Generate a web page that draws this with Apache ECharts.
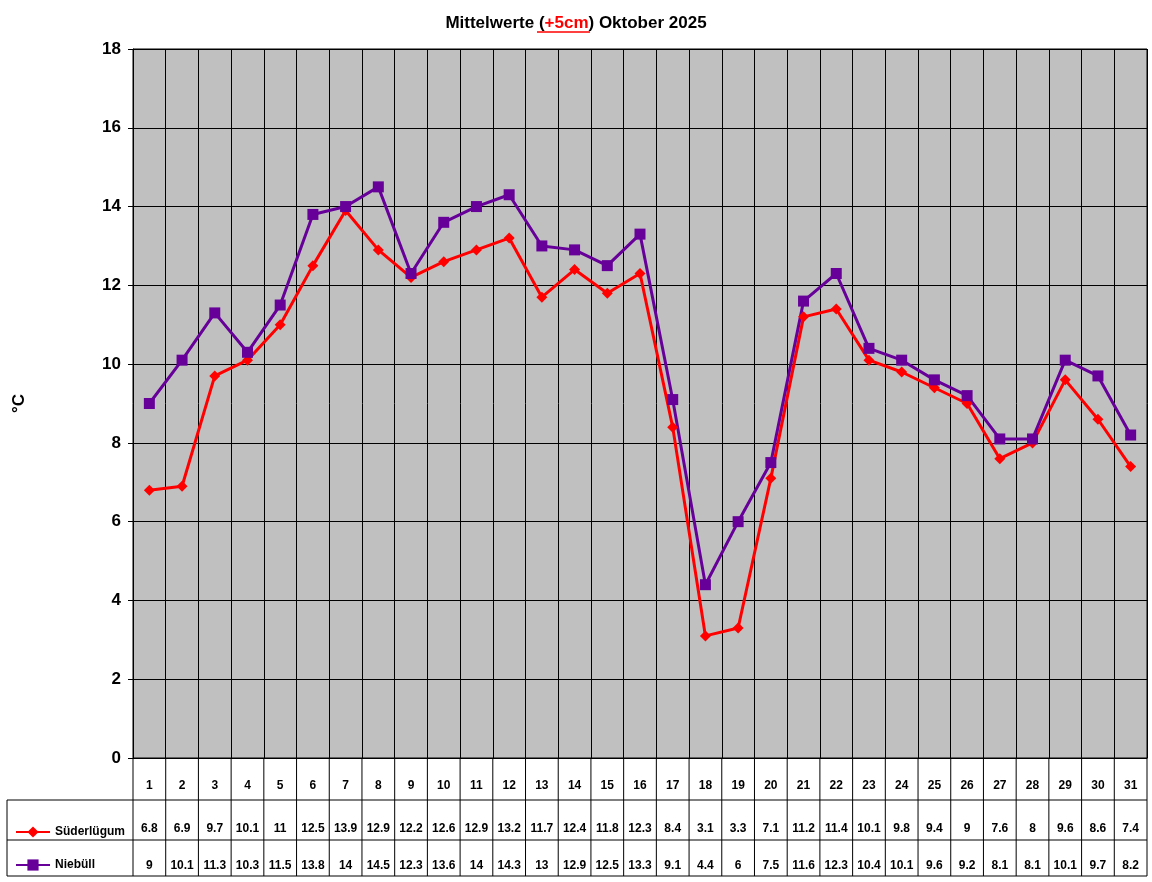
<!DOCTYPE html>
<html lang="de">
<head>
<meta charset="UTF-8">
<title>Mittelwerte Oktober 2025</title>
<script src="https://cdn.jsdelivr.net/npm/echarts@6/dist/echarts.min.js"></script>
<style>html,body{margin:0;background:#fff}</style>
</head>
<body>
<div id="main" style="width:1152px;height:882px;"></div>
<script>
var days = [];
for (var d = 1; d <= 31; d++) days.push(String(d));
var suederluegum = [6.8,6.9,9.7,10.1,11,12.5,13.9,12.9,12.2,12.6,12.9,13.2,11.7,12.4,11.8,12.3,8.4,3.1,3.3,7.1,11.2,11.4,10.1,9.8,9.4,9,7.6,8,9.6,8.6,7.4];
var niebuell = [9,10.1,11.3,10.3,11.5,13.8,14,14.5,12.3,13.6,14,14.3,13,12.9,12.5,13.3,9.1,4.4,6,7.5,11.6,12.3,10.4,10.1,9.6,9.2,8.1,8.1,10.1,9.7,8.2];

var L = 133, R = 1147, T = 49, B = 758;
var colW = (R - L) / days.length;
var font = 'Arial, "Liberation Sans", sans-serif';

// Tabellenlinien
var lines = [];
function seg(x1, y1, x2, y2) {
  lines.push({type: 'line', shape: {x1: x1, y1: y1, x2: x2, y2: y2}, style: {stroke: '#000', lineWidth: 1}, silent: true});
}
for (var i = 0; i <= days.length; i++) seg(L + i * colW, B, L + i * colW, 876);
seg(7, 800, R, 800);
seg(7, 840, R, 840);
seg(7, 876, R, 876);
seg(7, 800, 7, 876);
// Unterstreichung "+5cm"
lines.push({type: 'line', shape: {x1: 537, y1: 32, x2: 590, y2: 32}, style: {stroke: '#ff0000', lineWidth: 1.5}, silent: true});

function valueAxis(data, offset) {
  return {
    type: 'category', data: data, position: 'bottom', offset: offset,
    axisLine: {show: false}, axisTick: {show: false},
    axisLabel: {fontFamily: font, fontWeight: 'bold', fontSize: 12, color: '#000', interval: 0, margin: 0}
  };
}

var chart = echarts.init(document.getElementById('main'));
chart.setOption({
  animation: false,
  title: {
    text: 'Mittelwerte ({r|+5cm}) Oktober 2025',
    left: 'center', top: 10,
    textStyle: {fontFamily: font, fontWeight: 'bold', fontSize: 17, color: '#000',
      rich: {r: {fontFamily: font, fontWeight: 'bold', fontSize: 17, color: '#ff0000'}}}
  },
  legend: {
    orient: 'vertical', left: 10, top: 821, itemGap: 21, itemWidth: 34, itemHeight: 14,
    textStyle: {fontFamily: font, fontWeight: 'bold', fontSize: 12, color: '#000'},
    data: ['Süderlügum', 'Niebüll']
  },
  grid: {left: L, right: 1152 - R, top: T, bottom: 882 - B, show: true, backgroundColor: '#c0c0c0', borderColor: '#000', borderWidth: 1},
  xAxis: [
    {
      type: 'category', data: days, boundaryGap: true,
      axisLine: {lineStyle: {color: '#000'}}, axisTick: {show: false},
      splitLine: {show: true, interval: 0, lineStyle: {color: '#000'}},
      axisLabel: {fontFamily: font, fontWeight: 'bold', fontSize: 12, color: '#000', interval: 0, margin: 22}
    },
    valueAxis(suederluegum, 65),
    valueAxis(niebuell, 102)
  ],
  yAxis: {
    type: 'value', min: 0, max: 18, interval: 2,
    name: '°C', nameLocation: 'middle', nameGap: 105, nameRotate: 90,
    nameTextStyle: {fontFamily: font, fontWeight: 'bold', fontSize: 17, color: '#000'},
    axisLine: {show: true, lineStyle: {color: '#000'}},
    axisTick: {show: true, length: 5, lineStyle: {color: '#000'}},
    splitLine: {lineStyle: {color: '#000'}},
    axisLabel: {fontFamily: font, fontWeight: 'bold', fontSize: 17, color: '#000', margin: 12}
  },
  series: [
    {name: 'Süderlügum', type: 'line', data: suederluegum, symbol: 'diamond', symbolSize: 11,
      itemStyle: {color: '#ff0000'}, lineStyle: {color: '#ff0000', width: 3}},
    {name: 'Niebüll', type: 'line', data: niebuell, symbol: 'rect', symbolSize: 11,
      itemStyle: {color: '#660099'}, lineStyle: {color: '#660099', width: 3}}
  ],
  graphic: lines
});
</script>
</body>
</html>
